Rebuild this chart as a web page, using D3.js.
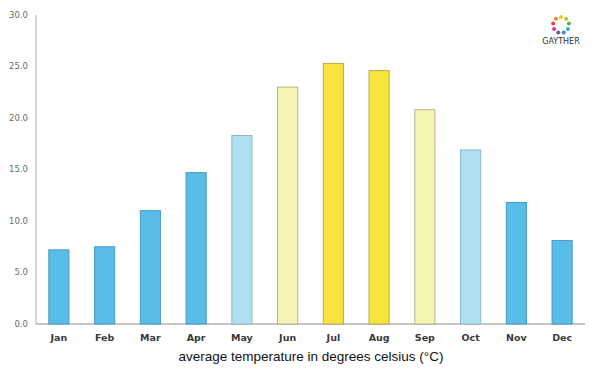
<!DOCTYPE html>
<html>
<head>
<meta charset="utf-8">
<script src="https://cdn.jsdelivr.net/npm/d3@7"></script>
<style>
  body { margin: 0; background: #fff; }
  svg { display: block; }
</style>
</head>
<body>
<svg id="chart" width="600" height="375"></svg>
<script>
const months = ['Jan', 'Feb', 'Mar', 'Apr', 'May', 'Jun', 'Jul', 'Aug', 'Sep', 'Oct', 'Nov', 'Dec'];
const temps = [7.2, 7.5, 11.0, 14.7, 18.3, 23.0, 25.3, 24.6, 20.8, 16.9, 11.8, 8.1];
// colour group per month: 0 dark blue, 1 light blue, 2 pale yellow, 3 yellow
const groups = [0, 0, 0, 0, 1, 2, 3, 3, 2, 1, 0, 0];
const yTicks = [0, 5, 10, 15, 20, 25, 30];
const xLabel = 'average temperature in degrees celsius (°C)';

const fills = ['#58bde8', '#afe0f2', '#f3f5b0', '#f9e33e'];
const strokes = ['#4a9cbf', '#8fb9c8', '#b5b48c', '#b9a94c'];

const svg = d3.select('#chart');
const margin = {left: 36, right: 15, top: 15, bottom: 51};
const width = 600, height = 375;

const x = d3.scaleBand()
  .domain(months)
  .range([margin.left, width - margin.right])
  .paddingInner(0.56)
  .paddingOuter(0.28);
const y = d3.scaleLinear()
  .domain([0, 30])
  .range([height - margin.bottom, margin.top]);

// axes
svg.append('line')
  .attr('x1', margin.left).attr('x2', margin.left)
  .attr('y1', y(30)).attr('y2', y(0))
  .attr('stroke', '#c8c8c8').attr('stroke-width', 1.5);
svg.append('line')
  .attr('x1', margin.left).attr('x2', width - margin.right)
  .attr('y1', y(0)).attr('y2', y(0))
  .attr('stroke', '#b0b0b0').attr('stroke-width', 1.5);

svg.append('g')
  .selectAll('text')
  .data(yTicks)
  .enter().append('text')
  .attr('x', margin.left - 8)
  .attr('y', d => y(d))
  .attr('dy', '0.35em')
  .style('text-anchor', 'end')
  .style('font-family', 'DejaVu Sans, sans-serif')
  .style('font-size', 8.5)
  .style('fill', '#6a6a6a')
  .text(d => d.toFixed(1));

// bars
svg.append('g')
  .selectAll('rect')
  .data(temps)
  .enter().append('rect')
  .attr('x', (d, i) => x(months[i]))
  .attr('y', d => y(d))
  .attr('width', x.bandwidth())
  .attr('height', d => y(0) - y(d))
  .style('fill', (d, i) => fills[groups[i]])
  .style('stroke', (d, i) => strokes[groups[i]])
  .style('stroke-width', 1);

// month labels
svg.append('g')
  .selectAll('text')
  .data(months)
  .enter().append('text')
  .attr('x', d => x(d) + x.bandwidth() / 2)
  .attr('y', y(0) + 17)
  .style('text-anchor', 'middle')
  .style('font-family', 'DejaVu Sans, sans-serif')
  .style('font-size', 9.5)
  .style('font-weight', 600)
  .style('fill', '#3a3a3a')
  .text(d => d);

svg.append('text')
  .attr('x', 311)
  .attr('y', 361)
  .style('text-anchor', 'middle')
  .style('font-family', 'Liberation Sans, Arial, sans-serif')
  .style('font-size', 13.5)
  .style('fill', '#111')
  .text(xLabel);

// logo
const logoColors = ['#f6c332', '#a6cc3a', '#4cb848', '#2bb3b8', '#3a8ed0', '#7b55a8', '#d43a8a', '#e8483c', '#f08a2c'];
const logo = svg.append('g').attr('transform', 'translate(561,25)');
logo.selectAll('circle')
  .data(logoColors)
  .enter().append('circle')
  .attr('cx', (d, i) => 8 * Math.cos(i / logoColors.length * 2 * Math.PI - Math.PI / 2))
  .attr('cy', (d, i) => 8 * Math.sin(i / logoColors.length * 2 * Math.PI - Math.PI / 2))
  .attr('r', 2)
  .style('fill', d => d);
svg.append('text')
  .attr('x', 561)
  .attr('y', 44)
  .style('text-anchor', 'middle')
  .style('font-family', 'DejaVu Sans, sans-serif')
  .style('font-size', 8)
  .style('fill', '#333')
  .text('GAYTHER');
</script>
</body>
</html>
